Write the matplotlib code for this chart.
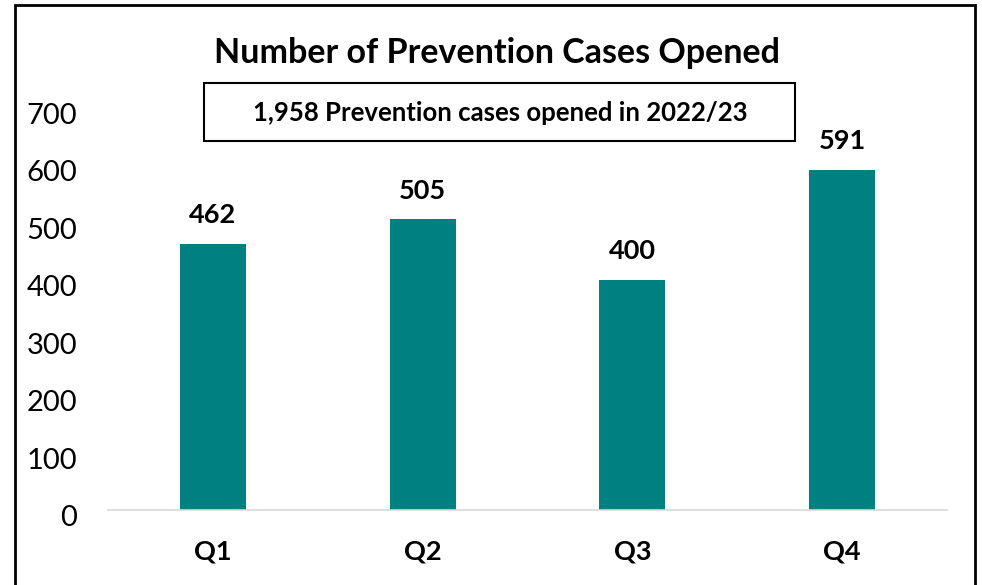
import matplotlib
matplotlib.use('Agg')
import matplotlib.pyplot as plt
from matplotlib.patches import Rectangle
from matplotlib.transforms import ScaledTranslation

# Chart data
quarters = ['Q1', 'Q2', 'Q3', 'Q4']
cases = [462, 505, 400, 591]
y_ticks = [0, 100, 200, 300, 400, 500, 600, 700]
title = 'Number of Prevention Cases Opened'
subtitle = '1,958 Prevention cases opened in 2022/23'

plt.rcParams['font.family'] = ['Lato', 'DejaVu Sans']

W, H = 982, 585
fig = plt.figure(figsize=(W / 100, H / 100), dpi=100)
ax = fig.add_axes([108 / W, (H - 510) / H, (947 - 108) / W, (510 - 107) / H])

x = list(range(len(quarters)))
ax.bar(x, cases, width=0.315, color='#008080', zorder=2)

# value labels above bars
for xi, v in zip(x, cases):
    ax.annotate(str(v), (xi, v), xytext=(0, 12), textcoords='offset points',
                ha='center', va='bottom', fontsize=19.5, fontweight='bold')

ax.set_xlim(-0.5, 3.5)
ax.set_ylim(0, 700)
ax.set_xticks(x)
ax.set_xticklabels(quarters, fontsize=19.5, fontweight='bold')
ax.set_yticks(y_ticks)
ax.set_yticklabels([str(t) for t in y_ticks], fontsize=21)
ax.tick_params(axis='both', length=0)
ax.tick_params(axis='y', pad=22)
ax.tick_params(axis='x', pad=21)

# Excel-style labels sit a bit below their tick
off = ScaledTranslation(0, -0.06, fig.dpi_scale_trans)
for lab in ax.get_yticklabels():
    lab.set_transform(lab.get_transform() + off)

for side in ['left', 'right', 'top']:
    ax.spines[side].set_visible(False)
ax.spines['bottom'].set_color('#d9d9d9')
ax.spines['bottom'].set_linewidth(1.2)

# title and boxed subtitle
fig.text(497 / W, 1 - 53 / H, title, ha='center', va='center',
         fontsize=24.5, fontweight='bold')
fig.patches.append(Rectangle((204 / W, 1 - 141 / H), (795 - 204) / W, (141 - 83) / H,
                             transform=fig.transFigure, fill=False,
                             edgecolor='black', linewidth=1.5))
fig.text(500 / W, 1 - 113 / H, subtitle, ha='center', va='center',
         fontsize=18.5, fontweight='bold')

# outer chart border
fig.patches.append(Rectangle((15 / W, -0.02), (975 - 15) / W, 1.02 - 5 / H,
                             transform=fig.transFigure, fill=False,
                             edgecolor='black', linewidth=2))

fig.savefig('out.png', dpi=100)
